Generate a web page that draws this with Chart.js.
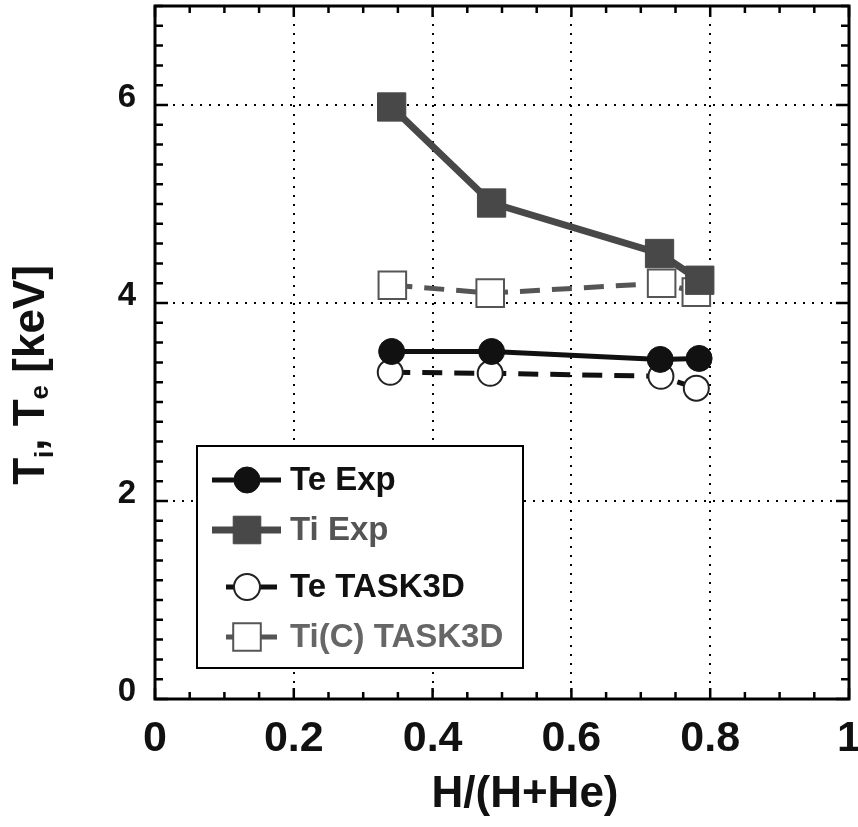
<!DOCTYPE html>
<html>
<head>
<meta charset="utf-8">
<script src="https://cdn.jsdelivr.net/npm/chart.js@4.4.0/dist/chart.umd.min.js"></script>
<style>
  html, body { margin: 0; padding: 0; background: #fff; }
</style>
</head>
<body>
<canvas id="tempChart" width="858" height="827"></canvas>
<script>
// values
const xTeExp = [0.341, 0.485, 0.728, 0.784];
const teExp = [3.51, 3.51, 3.43, 3.44];
const xTiExp = [0.341, 0.485, 0.727, 0.785];
const tiExp = [5.98, 5.01, 4.50, 4.23];
const xTeTask = [0.339, 0.483, 0.729, 0.780];
const teTask = [3.30, 3.29, 3.26, 3.14];
const xTiTask = [0.342, 0.483, 0.730, 0.780];
const tiTask = [4.18, 4.10, 4.20, 4.11];
const seriesNames = ["Te Exp", "Ti Exp", "Te TASK3D", "Ti(C) TASK3D"];
const xTicks = [0, 0.2, 0.4, 0.6, 0.8, 1];
const yTicks = [0, 2, 4, 6];
const xTitle = "H/(H+He)";

const FONT = "'Liberation Sans', Arial, sans-serif";

function pts(xs, ys) {
    return xs.map((x, i) => ({ x: x, y: ys[i] }));
}

// keep the plot box where the figure has it, whatever the label sizes
function noPad(s) {
    s.paddingLeft = s.paddingRight = s.paddingTop = s.paddingBottom = 0;
    s.getPadding = () => ({ left: 0, right: 0, top: 0, bottom: 0 });
}

// frame with inward ticks on all four sides
const frame = {
    id: "frame",
    beforeDatasetsDraw(chart) {
        const ctx = chart.ctx;
        const a = chart.chartArea;
        const xs = chart.scales.x, ys = chart.scales.y;
        ctx.save();
        ctx.strokeStyle = "#000";
        ctx.lineWidth = 2.5;
        ctx.beginPath();
        for (let v = 0; v <= 1.0001; v += 0.05) {
            const px = xs.getPixelForValue(v);
            const major = Math.abs(v / 0.2 - Math.round(v / 0.2)) < 0.01;
            const len = major ? 11 : 7;
            ctx.moveTo(px, a.bottom); ctx.lineTo(px, a.bottom - len);
            ctx.moveTo(px, a.top); ctx.lineTo(px, a.top + len);
        }
        for (let v = 0; v <= 7.0001; v += 0.2) {
            const py = ys.getPixelForValue(v);
            const major = Math.abs(v / 2 - Math.round(v / 2)) < 0.01;
            const len = major ? 13 : 8;
            ctx.moveTo(a.left, py); ctx.lineTo(a.left + len, py);
            ctx.moveTo(a.right, py); ctx.lineTo(a.right - len, py);
        }
        ctx.stroke();
        ctx.lineWidth = 3;
        ctx.strokeRect(a.left, a.top, a.right - a.left, a.bottom - a.top);
        ctx.restore();
    }
};

function marker(ctx, style, x, y, r, fill, stroke, bw) {
    ctx.beginPath();
    if (style === "rect") {
        const s = Math.SQRT1_2 * r;
        ctx.rect(x - s, y - s, 2 * s, 2 * s);
    } else {
        ctx.arc(x, y, r, 0, Math.PI * 2);
    }
    ctx.fillStyle = fill;
    ctx.fill();
    ctx.lineWidth = bw;
    ctx.strokeStyle = stroke;
    ctx.stroke();
}

// legend box inside the plot, plus axis titles
const extras = {
    id: "extras",
    afterDraw(chart) {
        const ctx = chart.ctx;
        ctx.save();
        ctx.fillStyle = "#fff";
        ctx.fillRect(197, 446, 326, 222);
        ctx.strokeStyle = "#000";
        ctx.lineWidth = 2;
        ctx.strokeRect(197, 446, 326, 222);
        const rowY = [480, 530, 587, 637];
        const textCol = ["#111", "#555", "#111", "#666"];
        chart.data.datasets.forEach((ds, i) => {
            const y = rowY[i];
            const dashed = ds.borderDash && ds.borderDash.length;
            ctx.beginPath();
            ctx.strokeStyle = ds.borderColor;
            ctx.lineWidth = ds.borderWidth;
            ctx.moveTo(dashed ? 226 : 212, y);
            ctx.lineTo(dashed ? 277 : 281, y);
            ctx.stroke();
            marker(ctx, ds.pointStyle, 247, y, ds.pointStyle === "rect" ? 19.5 : 13,
                ds.pointBackgroundColor, ds.pointBorderColor, ds.pointBorderWidth);
            ctx.fillStyle = textCol[i];
            ctx.font = "bold 33px " + FONT;
            ctx.textBaseline = "middle";
            ctx.textAlign = "left";
            ctx.fillText(ds.label, 290, y + 1);
        });

        // x axis title
        ctx.fillStyle = "#111";
        ctx.font = "bold 44px " + FONT;
        ctx.textAlign = "center";
        ctx.textBaseline = "middle";
        ctx.fillText(xTitle, 525, 795);

        // y axis title: T_i, T_e [keV]
        const parts = [
            ["T", 44, 0], ["i", 26, 9], [",", 44, 0], [" T", 44, 0], ["e", 26, 4], [" [keV]", 44, 0]
        ];
        ctx.translate(44, 375);
        ctx.rotate(-Math.PI / 2);
        ctx.textAlign = "left";
        ctx.textBaseline = "alphabetic";
        let total = 0;
        parts.forEach(p => { ctx.font = "bold " + p[1] + "px " + FONT; total += ctx.measureText(p[0]).width; });
        let x = -total / 2;
        parts.forEach(p => {
            ctx.font = "bold " + p[1] + "px " + FONT;
            ctx.fillText(p[0], x, p[2]);
            x += ctx.measureText(p[0]).width;
        });
        ctx.restore();
    }
};

new Chart(document.getElementById("tempChart"), {
    type: "scatter",
    data: {
        datasets: [
            {
                label: seriesNames[0],
                data: pts(xTeExp, teExp),
                showLine: true,
                borderColor: "#111",
                borderWidth: 5,
                pointStyle: "circle",
                pointRadius: 13,
                pointBackgroundColor: "#111",
                pointBorderColor: "#111",
                pointBorderWidth: 1,
            },
            {
                label: seriesNames[1],
                data: pts(xTiExp, tiExp),
                showLine: true,
                borderColor: "#484848",
                borderWidth: 7,
                pointStyle: "rect",
                pointRadius: 20,
                pointBackgroundColor: "#484848",
                pointBorderColor: "#484848",
                pointBorderWidth: 1,
            },
            {
                label: seriesNames[2],
                data: pts(xTeTask, teTask),
                showLine: true,
                borderColor: "#111",
                borderWidth: 5,
                borderDash: [20, 12],
                pointStyle: "circle",
                pointRadius: 12.5,
                pointBackgroundColor: "#fff",
                pointBorderColor: "#222",
                pointBorderWidth: 2,
            },
            {
                label: seriesNames[3],
                data: pts(xTiTask, tiTask),
                showLine: true,
                borderColor: "#555",
                borderWidth: 5,
                borderDash: [20, 12],
                pointStyle: "rect",
                pointRadius: 19.5,
                pointBackgroundColor: "#fff",
                pointBorderColor: "#555",
                pointBorderWidth: 2,
            },
        ],
    },
    options: {
        responsive: false,
        animation: false,
        layout: { autoPadding: false, padding: { top: 6, right: 9, left: 0, bottom: 0 } },
        plugins: {
            legend: { display: false },
            tooltip: { enabled: false },
        },
        scales: {
            x: {
                type: "linear",
                min: 0,
                max: 1,
                afterBuildTicks: s => { s.ticks = xTicks.map(v => ({ value: v })); },
                afterFit: s => { s.height = 128; noPad(s); },
                border: { display: false, dash: [2, 7] },
                grid: { color: "#000", lineWidth: 2, drawTicks: false },
                ticks: {
                    padding: 14,
                    color: "#111",
                    maxRotation: 0,
                    font: { family: FONT, size: 43, weight: "bold" },
                    callback: v => String(v),
                },
            },
            y: {
                type: "linear",
                min: 0,
                max: 7,
                afterBuildTicks: s => { s.ticks = yTicks.map(v => ({ value: v })); },
                afterFit: s => { s.width = 155; noPad(s); },
                border: { display: false, dash: [2, 7] },
                grid: { color: "#000", lineWidth: 2, drawTicks: false },
                ticks: {
                    padding: 19,
                    color: "#111",
                    labelOffset: -7,
                    font: { family: FONT, size: 33, weight: "bold" },
                },
            },
        },
    },
    plugins: [frame, extras],
});
</script>
</body>
</html>
